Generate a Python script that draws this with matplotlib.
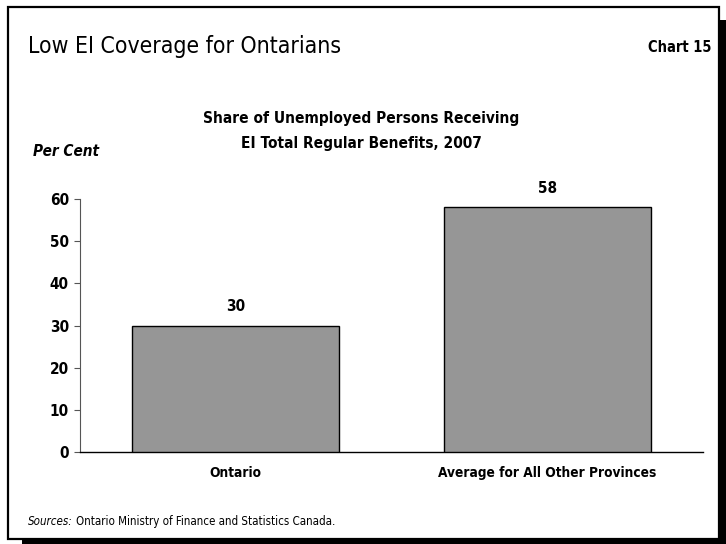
import matplotlib
matplotlib.use("Agg")
import matplotlib.pyplot as plt
from matplotlib import font_manager
from matplotlib.patches import Rectangle

categories = ["Ontario", "Average for All Other Provinces"]
values = [30, 58]
yticks = [0, 10, 20, 30, 40, 50, 60]

names = {f.name for f in font_manager.fontManager.ttflist}
if "Liberation Sans Narrow" in names:
    FAM = "Liberation Sans Narrow"
    STRETCH = "normal"
else:
    FAM = "DejaVu Sans"
    STRETCH = "condensed"
plt.rcParams["font.family"] = [FAM, "DejaVu Sans"]

W, H = 726, 544
fig = plt.figure(figsize=(W / 100, H / 100), dpi=100)

def fx(px):
    return px / W

def fy(py):
    return 1 - py / H

# shadow and frame
fig.patches.append(Rectangle((fx(22), fy(544)), fx(726) - fx(22), fy(20) - fy(544),
                             transform=fig.transFigure, facecolor="black", edgecolor="none", zorder=-2))
fig.patches.append(Rectangle((fx(8), fy(539)), fx(719) - fx(8), fy(7) - fy(539),
                             transform=fig.transFigure, facecolor="white", edgecolor="black",
                             linewidth=1.6, zorder=-1))

ax = fig.add_axes([fx(80), fy(452), fx(703) - fx(80), fy(199) - fy(452)])
ax.set_zorder(5)
ax.set_facecolor("none")
x = list(range(len(categories)))
ax.bar(x, values, width=0.665, color="#969696", edgecolor="black", linewidth=1.0, zorder=3)
ax.set_xlim(-0.5, 1.5)
ax.set_ylim(0, 60)
ax.set_yticks(yticks)
ax.set_yticklabels([str(t) for t in yticks], fontsize=11, fontweight="bold", fontstretch=STRETCH)
ax.set_xticks(x)
ax.set_xticklabels(categories, fontsize=9.8, fontweight="bold", fontstretch=STRETCH)
ax.tick_params(axis="x", length=0, pad=10)
ax.tick_params(axis="y", length=4, width=0.8, color="#555555", pad=4)
for s in ["top", "right"]:
    ax.spines[s].set_visible(False)
ax.spines["left"].set_color("#555555")
ax.spines["left"].set_linewidth(0.8)
ax.spines["bottom"].set_color("black")
ax.spines["bottom"].set_linewidth(1.0)

for xi, v in zip(x, values):
    ax.annotate(str(v), (xi, v), xytext=(0, 8), textcoords="offset points",
                ha="center", va="bottom", fontsize=11, fontweight="bold", fontstretch=STRETCH)

fig.text(fx(28), fy(46), "Low EI Coverage for Ontarians", fontsize=16.5, ha="left", va="center",
         fontstretch=STRETCH)
fig.text(fx(712), fy(48), "Chart 15", fontsize=10.5, fontweight="bold", ha="right", va="center",
         fontstretch=STRETCH)
fig.text(fx(361), fy(118), "Share of Unemployed Persons Receiving", fontsize=11.1, fontweight="bold",
         ha="center", va="center", fontstretch=STRETCH)
fig.text(fx(361), fy(143), "EI Total Regular Benefits, 2007", fontsize=11.1, fontweight="bold",
         ha="center", va="center", fontstretch=STRETCH)
fig.text(fx(33), fy(152), "Per Cent", fontsize=11, fontweight="bold", style="italic",
         ha="left", va="center", fontstretch=STRETCH)
t1 = fig.text(fx(28), fy(525), "Sources:", fontsize=8.3, style="italic", ha="left", va="baseline",
              fontstretch=STRETCH)
fig.canvas.draw()
bb = t1.get_window_extent()
fig.text(bb.x1 / W + 3 / W, fy(525), "Ontario Ministry of Finance and Statistics Canada.",
         fontsize=8.3, ha="left", va="baseline", fontstretch=STRETCH)

fig.savefig("out.png", dpi=100)
